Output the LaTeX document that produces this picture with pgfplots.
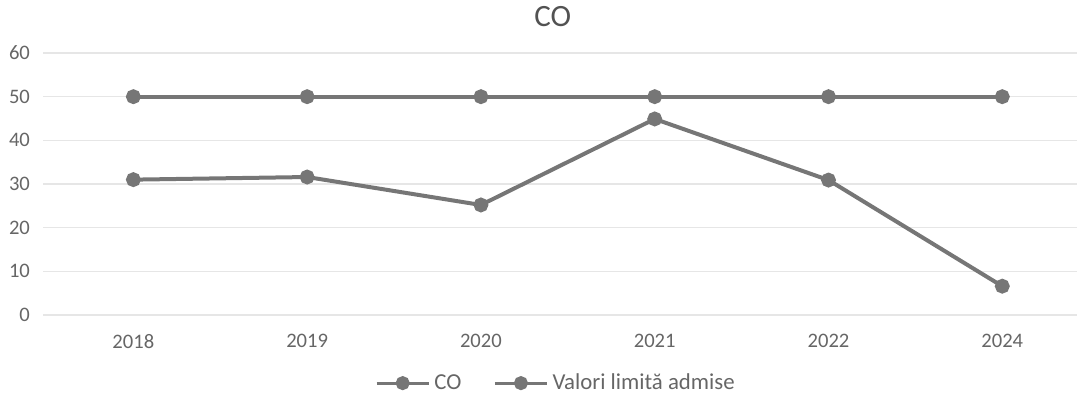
\documentclass[border=0pt]{standalone}
\usepackage{pgfplots}
\pgfplotsset{compat=1.18}
\usepackage{fontspec}
\setmainfont{Carlito}

\definecolor{serie}{HTML}{767676}
\definecolor{grila}{HTML}{E6E6E6}
\definecolor{text}{HTML}{666666}

\begin{document}
\begin{tikzpicture}
\begin{axis}[
  at={(21.5pt,41.5pt)}, anchor=south west,
  scale only axis,
  width=517pt, height=131pt,
  xmin=-0.52, xmax=5.43,
  ymin=0, ymax=60,
  ytick={0,10,...,60},
  xtick={0,...,5},
  xticklabels={2018,2019,2020,2021,2022,2024},
  ymajorgrids,
  grid style={grila, line width=0.6pt},
  axis line style={draw=none},
  tick style={draw=none},
  /pgf/number format/assume math mode=true,
  ticklabel style={font=\fontsize{10.3}{12}\selectfont, text=text},
  yticklabel style={xshift=-3pt},
  xticklabel style={yshift=-6pt},
  title={CO},
  title style={font=\fontsize{15.5}{18}\selectfont, text=text!80!black,
    at={(0.493,1.095)}, anchor=center},
  legend style={at={(0.497,-0.26)}, anchor=center, draw=none, fill=none,
    legend columns=-1, font=\fontsize{11.4}{13}\selectfont, text=text,
    /tikz/every even column/.append style={column sep=14pt},
    inner sep=0pt},
  legend cell align=left,
  legend image code/.code={
    \draw[mark repeat=2, mark phase=2, line width=1.6pt]
      plot coordinates {(0pt,0pt) (13pt,0pt) (26pt,0pt)};},
  cycle list={
    {serie, line width=2pt, mark=*, mark size=2.7pt, mark options={fill=serie, draw=serie}},
    {serie, line width=2pt, mark=*, mark size=2.7pt, mark options={fill=serie, draw=serie}}},
]
\addplot coordinates {(0,31) (1,31.6) (2,25.2) (3,44.9) (4,30.9) (5,6.6)};
\addlegendentry{CO}
\addplot coordinates {(0,50) (1,50) (2,50) (3,50) (4,50) (5,50)};
\addlegendentry{Valori limită admise}
\end{axis}
\pgfresetboundingbox
\useasboundingbox (0,0) rectangle (538.5pt,199pt);
\end{tikzpicture}
\end{document}
